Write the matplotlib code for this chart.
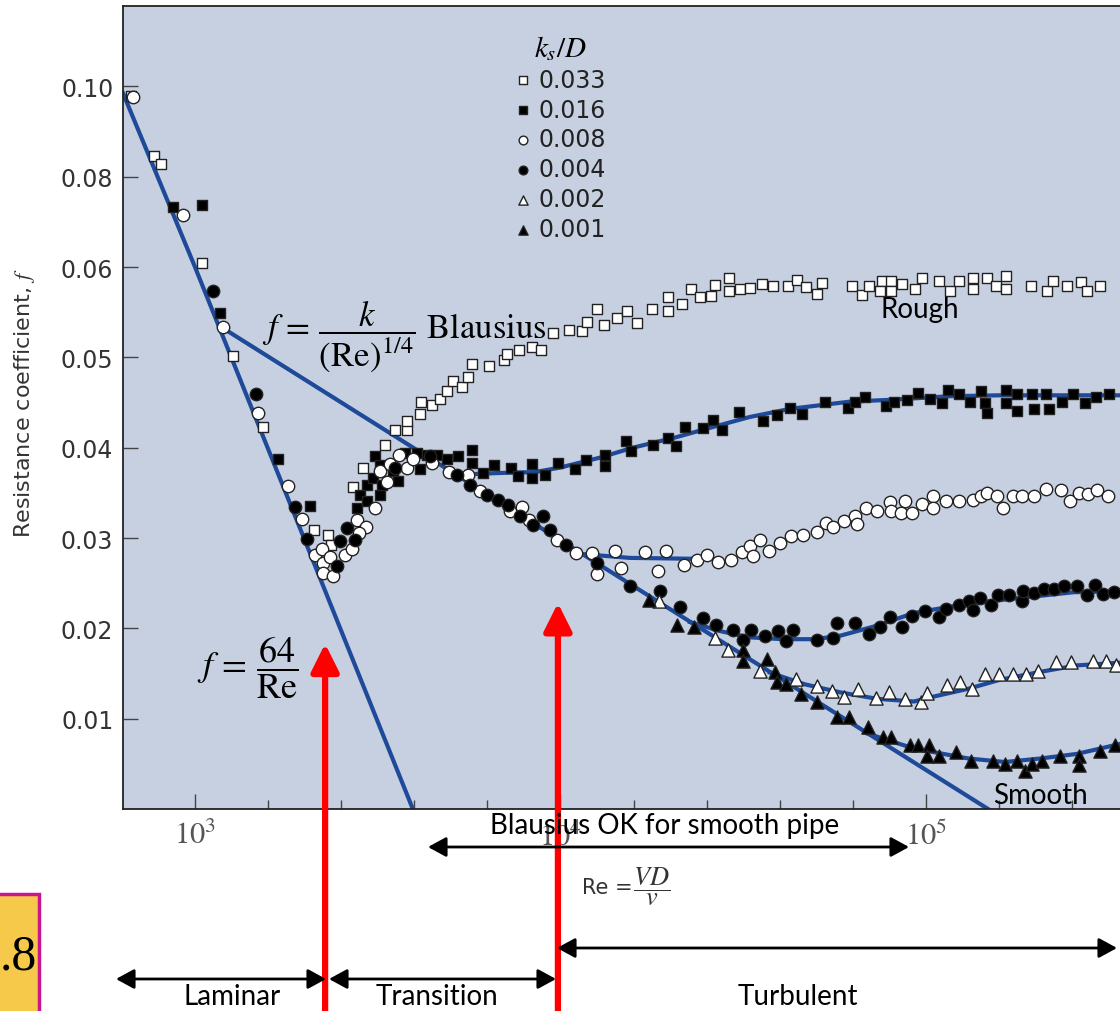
import numpy as np
import matplotlib
matplotlib.use("Agg")
import matplotlib.pyplot as plt
from matplotlib.patches import Rectangle, FancyArrowPatch
from matplotlib.ticker import FixedLocator, NullLocator

plt.rcParams['mathtext.fontset'] = 'stix'
plt.rcParams['font.family'] = ['DejaVu Sans']

W, H = 1120, 1012

# relative roughness k_s/D (legend order)
ks_labels = ['0.033', '0.016', '0.008', '0.004', '0.002', '0.001']

# measured points, stored as log10(Re) and f
lg_033 = [2.825, 2.888, 2.907, 3.019, 3.104, 3.186, 3.326, 3.364, 3.372, 3.432, 3.460, 3.520,
          3.547, 3.580, 3.580, 3.616, 3.618, 3.648, 3.670, 3.689, 3.706, 3.730, 3.747, 3.758,
          3.804, 3.845, 3.854, 3.886, 3.922, 3.947, 3.979, 4.023, 4.059, 4.072, 4.100, 4.119,
          4.155, 4.182, 4.209, 4.250, 4.294, 4.294, 4.332, 4.357, 4.382, 4.412, 4.423, 4.461,
          4.461, 4.491, 4.518, 4.551, 4.581, 4.622, 4.647, 4.672, 4.702, 4.715, 4.798, 4.825,
          4.844, 4.880, 4.874, 4.904, 4.904, 4.934, 4.970, 4.989, 5.036, 5.066, 5.090, 5.129,
          5.129, 5.167, 5.192, 5.219, 5.219, 5.287, 5.331, 5.347, 5.386, 5.424, 5.440, 5.476]
f_033 = [0.0978, 0.0846, 0.0829, 0.0609, 0.0502, 0.0423, 0.0309, 0.0303, 0.0292, 0.0356, 0.0377, 0.0403,
         0.0420, 0.0420, 0.0430, 0.0437, 0.0451, 0.0447, 0.0454, 0.0463, 0.0474, 0.0467, 0.0478, 0.0493,
         0.0490, 0.0497, 0.0504, 0.0508, 0.0511, 0.0508, 0.0527, 0.0530, 0.0529, 0.0539, 0.0553, 0.0536,
         0.0544, 0.0551, 0.0538, 0.0553, 0.0567, 0.0551, 0.0559, 0.0576, 0.0567, 0.0568, 0.0580, 0.0588,
         0.0573, 0.0576, 0.0577, 0.0581, 0.0579, 0.0579, 0.0586, 0.0578, 0.0570, 0.0582, 0.0579, 0.0569,
         0.0579, 0.0584, 0.0574, 0.0584, 0.0574, 0.0581, 0.0576, 0.0588, 0.0584, 0.0574, 0.0584, 0.0588,
         0.0576, 0.0588, 0.0579, 0.0590, 0.0576, 0.0579, 0.0573, 0.0584, 0.0579, 0.0583, 0.0574, 0.0579]

lg_016 = [2.940, 3.019, 3.068, 3.227, 3.315, 3.443, 3.451, 3.471, 3.471, 3.487, 3.492, 3.506,
          3.512, 3.506, 3.542, 3.555, 3.575, 3.607, 3.616, 3.635, 3.662, 3.689, 3.720, 3.758,
          3.758, 3.788, 3.818, 3.865, 3.884, 3.922, 3.922, 3.958, 3.993, 4.040, 4.070, 4.122,
          4.122, 4.179, 4.193, 4.253, 4.294, 4.316, 4.341, 4.390, 4.417, 4.442, 4.488, 4.554,
          4.592, 4.628, 4.661, 4.724, 4.787, 4.806, 4.833, 4.891, 4.912, 4.948, 4.978, 5.011,
          5.044, 5.060, 5.090, 5.120, 5.150, 5.161, 5.167, 5.219, 5.219, 5.249, 5.249, 5.290,
          5.295, 5.328, 5.336, 5.372, 5.402, 5.435, 5.465, 5.501]
f_016 = [0.0732, 0.0738, 0.0549, 0.0387, 0.0336, 0.0333, 0.0348, 0.0359, 0.0341, 0.0367, 0.0391, 0.0348,
         0.0359, 0.0381, 0.0374, 0.0363, 0.0394, 0.0394, 0.0376, 0.0392, 0.0392, 0.0387, 0.0391, 0.0397,
         0.0383, 0.0372, 0.0381, 0.0378, 0.0369, 0.0382, 0.0367, 0.0370, 0.0383, 0.0376, 0.0386, 0.0392,
         0.0380, 0.0407, 0.0396, 0.0403, 0.0411, 0.0402, 0.0423, 0.0422, 0.0431, 0.0420, 0.0439, 0.0430,
         0.0436, 0.0444, 0.0437, 0.0451, 0.0444, 0.0451, 0.0456, 0.0446, 0.0451, 0.0453, 0.0460, 0.0454,
         0.0449, 0.0464, 0.0459, 0.0451, 0.0463, 0.0450, 0.0438, 0.0464, 0.0450, 0.0459, 0.0441, 0.0459,
         0.0443, 0.0459, 0.0443, 0.0451, 0.0459, 0.0450, 0.0456, 0.0459]

lg_008 = [2.830, 2.967, 3.077, 3.172, 3.254, 3.293, 3.328, 3.347, 3.350, 3.350, 3.378, 3.369,
          3.410, 3.430, 3.443, 3.468, 3.449, 3.492, 3.525, 3.506, 3.534, 3.558, 3.580, 3.596,
          3.648, 3.695, 3.747, 3.780, 3.862, 3.895, 3.914, 3.990, 4.042, 4.086, 4.100, 4.149,
          4.166, 4.231, 4.267, 4.289, 4.338, 4.373, 4.401, 4.431, 4.466, 4.497, 4.518, 4.527,
          4.546, 4.570, 4.601, 4.631, 4.663, 4.702, 4.726, 4.746, 4.776, 4.806, 4.811, 4.836,
          4.866, 4.902, 4.904, 4.932, 4.943, 4.962, 4.989, 5.019, 5.019, 5.055, 5.090, 5.129,
          5.150, 5.167, 5.194, 5.211, 5.238, 5.263, 5.295, 5.328, 5.369, 5.394, 5.419, 5.443,
          5.468, 5.498]
f_008 = [0.0976, 0.0716, 0.0534, 0.0438, 0.0358, 0.0321, 0.0281, 0.0288, 0.0272, 0.0261, 0.0258, 0.0279,
         0.0281, 0.0288, 0.0320, 0.0312, 0.0306, 0.0333, 0.0362, 0.0374, 0.0382, 0.0392, 0.0378, 0.0387,
         0.0383, 0.0373, 0.0370, 0.0352, 0.0330, 0.0334, 0.0320, 0.0298, 0.0283, 0.0283, 0.0260, 0.0286,
         0.0267, 0.0284, 0.0264, 0.0286, 0.0270, 0.0276, 0.0281, 0.0274, 0.0276, 0.0284, 0.0291, 0.0280,
         0.0298, 0.0286, 0.0294, 0.0302, 0.0303, 0.0307, 0.0317, 0.0312, 0.0319, 0.0324, 0.0316, 0.0333,
         0.0330, 0.0340, 0.0330, 0.0328, 0.0341, 0.0328, 0.0338, 0.0347, 0.0333, 0.0341, 0.0341, 0.0342,
         0.0347, 0.0350, 0.0346, 0.0333, 0.0346, 0.0346, 0.0347, 0.0354, 0.0353, 0.0341, 0.0350, 0.0349,
         0.0353, 0.0346]

lg_004 = [3.049, 3.167, 3.274, 3.306, 3.389, 3.397, 3.416, 3.438, 3.547, 3.643, 3.717, 3.752,
          3.799, 3.829, 3.856, 3.889, 3.925, 3.952, 3.971, 4.015, 4.100, 4.190, 4.272, 4.327,
          4.390, 4.425, 4.472, 4.499, 4.521, 4.560, 4.595, 4.617, 4.636, 4.702, 4.746, 4.756,
          4.806, 4.844, 4.874, 4.902, 4.934, 4.962, 4.997, 5.036, 5.055, 5.090, 5.118, 5.129,
          5.148, 5.178, 5.197, 5.227, 5.263, 5.265, 5.295, 5.323, 5.350, 5.378, 5.413, 5.440,
          5.462, 5.484, 5.514]
f_004 = [0.0574, 0.0459, 0.0334, 0.0299, 0.0269, 0.0297, 0.0311, 0.0298, 0.0378, 0.0391, 0.0370, 0.0359,
         0.0348, 0.0342, 0.0337, 0.0324, 0.0314, 0.0324, 0.0309, 0.0292, 0.0272, 0.0247, 0.0241, 0.0224,
         0.0211, 0.0204, 0.0198, 0.0187, 0.0198, 0.0191, 0.0197, 0.0186, 0.0198, 0.0187, 0.0189, 0.0206,
         0.0206, 0.0194, 0.0202, 0.0213, 0.0202, 0.0214, 0.0219, 0.0213, 0.0221, 0.0226, 0.0230, 0.0220,
         0.0234, 0.0226, 0.0237, 0.0237, 0.0230, 0.0241, 0.0239, 0.0244, 0.0244, 0.0247, 0.0247, 0.0237,
         0.0248, 0.0238, 0.0240]

lg_002 = [4.269, 4.423, 4.458, 4.546, 4.644, 4.702, 4.743, 4.776, 4.814, 4.863, 4.899, 4.943,
          4.986, 5.003, 5.057, 5.093, 5.126, 5.161, 5.200, 5.238, 5.274, 5.306, 5.356, 5.397,
          5.457, 5.492, 5.520]
f_002 = [0.0230, 0.0189, 0.0176, 0.0153, 0.0144, 0.0136, 0.0131, 0.0124, 0.0133, 0.0123, 0.0130, 0.0122,
         0.0118, 0.0128, 0.0137, 0.0141, 0.0133, 0.0149, 0.0149, 0.0149, 0.0149, 0.0153, 0.0163, 0.0163,
         0.0164, 0.0164, 0.0159]

lg_001 = [4.242, 4.319, 4.365, 4.499, 4.499, 4.565, 4.587, 4.592, 4.617, 4.658, 4.702, 4.756,
          4.789, 4.841, 4.882, 4.904, 4.956, 4.978, 5.008, 5.003, 5.036, 5.082, 5.123, 5.183,
          5.216, 5.249, 5.271, 5.290, 5.317, 5.367, 5.419, 5.419, 5.476, 5.517]
f_001 = [0.0231, 0.0204, 0.0201, 0.0176, 0.0164, 0.0166, 0.0152, 0.0141, 0.0138, 0.0127, 0.0119, 0.0102,
         0.0102, 0.0091, 0.0080, 0.0080, 0.0071, 0.0071, 0.0071, 0.0059, 0.0059, 0.0063, 0.0053, 0.0053,
         0.0050, 0.0053, 0.0042, 0.0050, 0.0053, 0.0059, 0.0059, 0.0049, 0.0064, 0.0071]

# blue reference lines: laminar 64/Re, Blasius, and fitted curves
lam_lg = [2.803, 3.000, 3.596]
lam_f = [0.0985, 0.0600, 0.0]
bla_lg = [3.074, 5.170]
bla_f = [0.0533, 0.0]
fit_016_lg = [3.711, 3.834, 3.930, 3.999, 4.108, 4.198, 4.311, 4.409, 4.518, 4.628, 4.792, 4.902, 5.066, 5.202, 5.531]
fit_016_f = [0.0370, 0.0372, 0.0373, 0.0378, 0.0389, 0.0400, 0.0411, 0.0422, 0.0434, 0.0443, 0.0451, 0.0453, 0.0457, 0.0458, 0.0458]
fit_008_lg = [4.067, 4.190, 4.368]
fit_008_f = [0.0282, 0.0278, 0.0277]
fit_004_lg = [4.354, 4.436, 4.518, 4.609, 4.696, 4.767, 4.866, 4.967, 5.066, 5.175, 5.265, 5.405, 5.531]
fit_004_f = [0.0207, 0.0197, 0.0190, 0.0188, 0.0188, 0.0192, 0.0203, 0.0217, 0.0224, 0.0230, 0.0234, 0.0240, 0.0241]
fit_002_lg = [4.573, 4.669, 4.767, 4.866, 4.967, 5.016, 5.115, 5.202, 5.315, 5.413, 5.531]
fit_002_f = [0.0151, 0.0138, 0.0129, 0.0122, 0.0119, 0.0124, 0.0133, 0.0143, 0.0152, 0.0159, 0.0162]
fit_001_lg = [4.836, 4.967, 5.115, 5.216, 5.315, 5.413, 5.531]
fit_001_f = [0.0084, 0.0067, 0.0056, 0.0052, 0.0056, 0.0061, 0.0072]

# regime boundaries marked by the red arrows (Re, f at arrow tip)
re_bounds = [2270, 9840]
f_tips = [0.0183, 0.0228]

yticks = [0.01, 0.02, 0.03, 0.04, 0.05, 0.06, 0.08, 0.10]
ytick_labels = ['0.01', '0.02', '0.03', '0.04', '0.05', '0.06', '0.08', '0.10']

series = [(lg_033, f_033), (lg_016, f_016), (lg_008, f_008),
          (lg_004, f_004), (lg_002, f_002), (lg_001, f_001)]
markers = ['s', 's', 'o', 'o', '^', '^']
faces = ['white', 'black', 'white', 'black', 'white', 'black']
sizes = [55, 55, 80, 80, 90, 90]
fits = [(fit_016_lg, fit_016_f), (fit_008_lg, fit_008_f), (fit_004_lg, fit_004_f),
        (fit_002_lg, fit_002_f), (fit_001_lg, fit_001_f)]

BLUE = '#1f4a9a'


def fwd(f):
    f = np.asarray(f, float)
    return np.where(f <= 0.06, f, 0.06 + (f - 0.06) / 2)


def inv(p):
    p = np.asarray(p, float)
    return np.where(p <= 0.06, p, 0.06 + (p - 0.06) * 2)


def px(x, y):
    return (x / W, 1 - y / H)


fig = plt.figure(figsize=(W / 100, H / 100), dpi=100)
fig.patch.set_facecolor('white')
ax = fig.add_axes([123 / W, (H - 810) / H, (1135 - 123) / W, 803 / H])
ax.set_facecolor('#c6d0e1')
ax.set_xscale('log')
ax.set_yscale('function', functions=(fwd, inv))

ax.plot(10 ** np.array(lam_lg), lam_f, color=BLUE, lw=3, zorder=2)
ax.plot(10 ** np.array(bla_lg), bla_f, color=BLUE, lw=3, zorder=2)
for lg, f in fits:
    ax.plot(10 ** np.array(lg), f, color=BLUE, lw=3, zorder=2)

handles = []
for (lg, f), m, fc, s in zip(series, markers, faces, sizes):
    h = ax.scatter(10 ** np.array(lg), f, marker=m, s=s, facecolor=fc,
                   edgecolor='#222222', linewidths=1.0, zorder=3)
    handles.append(h)

ax.set_xlim(10 ** 2.803, 10 ** 5.572)
ax.set_ylim(0, 0.1178)

ax.set_yticks(yticks)
ax.set_yticklabels(ytick_labels)
ax.yaxis.set_minor_locator(NullLocator())
ax.set_xticks([1e3, 1e4, 1e5])
ax.set_xticklabels([r'$10^3$', r'$10^4$', r'$10^5$'])
ax.xaxis.set_minor_locator(FixedLocator(10 ** np.arange(2.8, 5.65, 0.2)))
ax.tick_params(axis='y', which='major', direction='in', length=11, width=1,
               color='#444444', labelsize=17, labelcolor='#333333', pad=7)
ax.tick_params(axis='x', which='major', direction='in', length=11, width=1,
               color='#444444', labelsize=22, labelcolor='#555555', pad=8)
ax.tick_params(axis='x', which='minor', direction='in', length=6.5, width=1, color='#444444')
for side in ['left', 'top', 'bottom']:
    ax.spines[side].set_color('#222222')
    ax.spines[side].set_linewidth(1.3)
ax.spines['right'].set_visible(False)

leg = ax.legend(handles, ks_labels, title=r'$k_s/D$', loc='upper left',
                bbox_to_anchor=px(503, 22), bbox_transform=fig.transFigure,
                frameon=False, fontsize=17, title_fontsize=21, labelspacing=0.25,
                handlelength=0.7, handletextpad=0.3, borderpad=0, markerscale=0.7)
for t in leg.get_texts():
    t.set_color('#222222')

ax.text(10 ** 4.984, 0.0553, 'Rough', family='Lato', fontsize=20, ha='center', va='center')
ax.text(10 ** 5.312, 0.0016, 'Smooth', family='Lato', fontsize=20, ha='center', va='center')

# formulas
fig.text(*px(262, 336), r'$f\,=\,\dfrac{k}{(\mathrm{Re})^{1/4}}\ \mathrm{Blausius}$',
         fontsize=25, ha='left', va='center')
fig.text(*px(197, 668), r'$f\,=\,\dfrac{64}{\mathrm{Re}}$', fontsize=26, ha='left', va='center')

fig.text(*px(25, 403), r'Resistance coefficient, $f$', rotation=90, fontsize=16,
         color='#333333', ha='center', va='center')

# red regime arrows
for re_b, ft in zip(re_bounds, f_tips):
    ax.annotate('', xy=(re_b, ft), xycoords='data', xytext=(re_b, 0),
                textcoords=('data', 'figure fraction'), annotation_clip=False,
                arrowprops=dict(arrowstyle='-|>,head_length=0.6,head_width=0.3',
                                color='#ff0000', lw=4.5, mutation_scale=28,
                                shrinkA=0, shrinkB=0))

# black double arrows and region labels
dbl = dict(arrowstyle='<|-|>,head_length=0.55,head_width=0.3', color='black', lw=2,
           mutation_scale=20, shrinkA=0, shrinkB=0)
for x0, x1, y in [(428, 909, 848), (557, 1117, 949), (116, 326, 980), (329, 556, 980)]:
    fig.add_artist(FancyArrowPatch(px(x0, y), px(x1, y), transform=fig.transFigure, **dbl))

fig.text(*px(665, 826), 'Blausius OK for smooth pipe', family='Lato', fontsize=20,
         ha='center', va='center')
fig.text(*px(232, 997), 'Laminar', family='Lato', fontsize=20, ha='center', va='center')
fig.text(*px(437, 997), 'Transition', family='Lato', fontsize=20, ha='center', va='center')
fig.text(*px(798, 997), 'Turbulent', family='Lato', fontsize=20, ha='center', va='center')
fig.text(*px(582, 888), 'Re =', fontsize=15, color='#333333', ha='left', va='center')
fig.text(*px(633, 887), r'$\dfrac{VD}{v}$', fontsize=19, color='#333333',
         ha='left', va='center')

# figure number badge at the lower left
fig.add_artist(Rectangle(px(-10, 1020), 49 / W, 125 / H, transform=fig.transFigure,
                         facecolor='#f7c94a', edgecolor='#c8168e', lw=2.5))
fig.text(*px(0, 957), '.8', family='Liberation Serif', fontsize=36, ha='left', va='center')

fig.savefig('out.png', dpi=100)
